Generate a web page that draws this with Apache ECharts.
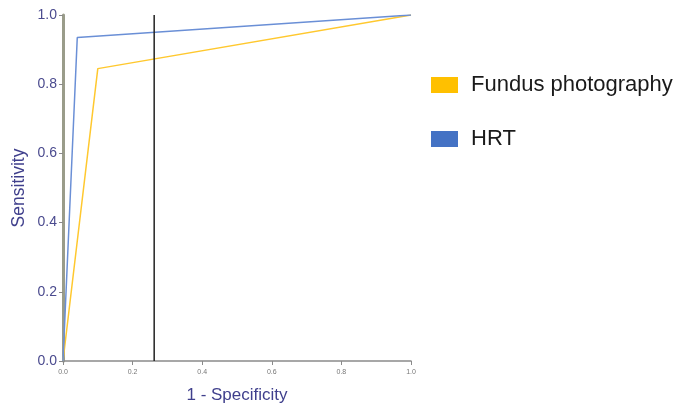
<!DOCTYPE html>
<html><head><meta charset="utf-8">
<script src="https://cdn.jsdelivr.net/npm/echarts@6/dist/echarts.min.js"></script>
<style>html,body{margin:0;padding:0;background:#fff}#c{width:679px;height:408px}</style>
</head><body><div id="c"></div>
<script>
const seriesNames = ['Fundus photography', 'HRT'];
const fundusX = [0, 0.10, 1.0];
const fundusY = [0, 0.845, 1.0];
const hrtX = [0, 0.041, 1.0];
const hrtY = [0, 0.935, 1.0];
const cutoffX = 0.262;
const yTicks = [0, 0.2, 0.4, 0.6, 0.8, 1.0];
const xTicks = [0, 0.2, 0.4, 0.6, 0.8, 1.0];

const pair = (xs, ys) => xs.map((x, i) => [x, ys[i]]);
const chart = echarts.init(document.getElementById('c'));
chart.setOption({
  animation: false,
  backgroundColor: '#fff',
  textStyle: {fontFamily: 'Liberation Sans, Arial, sans-serif'},
  grid: {left: 63, right: 268, top: 15, bottom: 47, containLabel: false, outerBoundsMode: 'none'},
  legend: {
    orient: 'vertical', left: 431, top: 74, padding: 0, itemWidth: 27, itemHeight: 16, itemGap: 32,
    icon: 'rect',
    textStyle: {fontSize: 22, color: '#1a1a1a', padding: [0, 0, 0, 8]},
    data: seriesNames
  },
  xAxis: {
    type: 'value', min: 0, max: 1, interval: 0.2,
    name: '1 - Specificity', nameLocation: 'middle', nameGap: 26,
    nameTextStyle: {fontSize: 17, color: '#3f3f8c'},
    axisLine: {lineStyle: {color: '#8a8a8a', width: 1.5}},
    axisTick: {show: true, length: 4, lineStyle: {color: '#8a8a8a'}},
    axisLabel: {fontSize: 7, color: '#777', margin: 8, formatter: v => v.toFixed(1)},
    splitLine: {show: false}
  },
  yAxis: {
    type: 'value', min: 0, max: 1, interval: 0.2,
    name: 'Sensitivity', nameLocation: 'middle', nameGap: 35, nameMoveOverlap: false,
    nameTextStyle: {fontSize: 17.5, color: '#3f3f8c'},
    axisLine: {show: true, lineStyle: {color: '#9a9c8a', width: 3}},
    axisTick: {show: true, length: 4, lineStyle: {color: '#8a8a8a'}},
    axisLabel: {fontSize: 14, color: '#4a4a8e', margin: 6, formatter: v => v.toFixed(1)},
    splitLine: {show: false}
  },
  series: [
    {name: seriesNames[0], type: 'line', data: pair(fundusX, fundusY), symbol: 'none',
     itemStyle: {color: '#FFC000'}, lineStyle: {color: '#FFC82E', width: 1.5}, z: 3},
    {name: seriesNames[1], type: 'line', data: pair(hrtX, hrtY), symbol: 'none',
     itemStyle: {color: '#4472C4'}, lineStyle: {color: '#6a8fd6', width: 1.5}, z: 4},
    {name: 'cutoff', type: 'line', data: [[cutoffX, 0], [cutoffX, 1]], symbol: 'none',
     lineStyle: {color: '#222', width: 1.5}, z: 5, silent: true}
  ]
});
</script></body></html>
